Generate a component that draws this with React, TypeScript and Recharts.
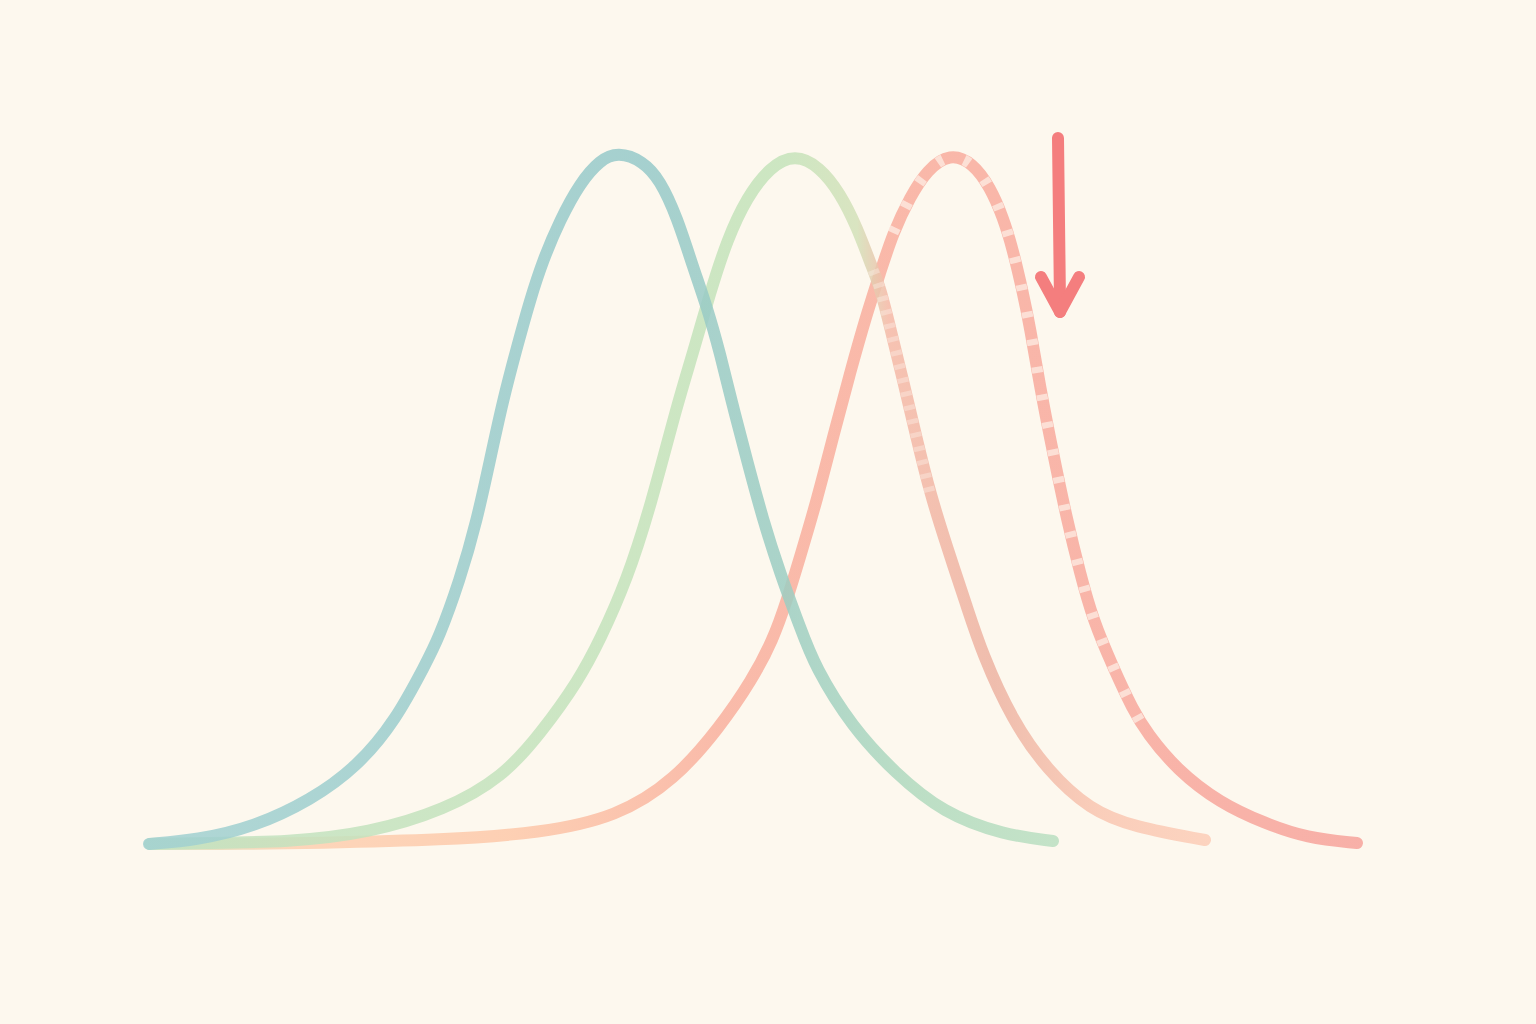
import { LineChart, Line, XAxis, YAxis, ReferenceLine } from "recharts";

// three bell curves, x = score, y = density
const tealCurve = [
  { x: 149, y: 0 }, { x: 197, y: 4 }, { x: 254, y: 17 }, { x: 311, y: 44 },
  { x: 357, y: 77 }, { x: 396, y: 124 }, { x: 426, y: 181 }, { x: 438, y: 204 },
  { x: 460, y: 264 }, { x: 477, y: 324 }, { x: 490, y: 384 }, { x: 503, y: 444 },
  { x: 517, y: 497 }, { x: 530, y: 544 }, { x: 543, y: 584 }, { x: 560, y: 624 },
  { x: 580, y: 661 }, { x: 600, y: 684 }, { x: 618, y: 692 }, { x: 643, y: 683 },
  { x: 660, y: 664 }, { x: 677, y: 627 }, { x: 693, y: 577 }, { x: 707, y: 537 },
  { x: 720, y: 491 }, { x: 733, y: 437 }, { x: 747, y: 384 }, { x: 763, y: 324 },
  { x: 780, y: 271 }, { x: 800, y: 217 }, { x: 815, y: 177 }, { x: 852, y: 117 },
  { x: 895, y: 71 }, { x: 943, y: 31 }, { x: 1004, y: 9 }, { x: 1053, y: 3 },
];

const greenCurve = [
  { x: 150, y: 0 }, { x: 200, y: 1 }, { x: 290, y: 2 }, { x: 369, y: 11 },
  { x: 445, y: 34 }, { x: 503, y: 67 }, { x: 541, y: 111 }, { x: 579, y: 164 },
  { x: 600, y: 204 }, { x: 627, y: 264 }, { x: 651, y: 339 }, { x: 677, y: 439 },
  { x: 693, y: 491 }, { x: 710, y: 551 }, { x: 727, y: 604 }, { x: 747, y: 647 },
  { x: 770, y: 677 }, { x: 795, y: 690 }, { x: 820, y: 677 }, { x: 840, y: 651 },
  { x: 857, y: 617 }, { x: 873, y: 574 }, { x: 880, y: 557 }, { x: 890, y: 517 },
  { x: 903, y: 464 }, { x: 917, y: 404 }, { x: 930, y: 351 }, { x: 947, y: 297 },
  { x: 967, y: 237 }, { x: 982, y: 191 }, { x: 1012, y: 124 }, { x: 1047, y: 74 },
  { x: 1090, y: 34 }, { x: 1134, y: 17 }, { x: 1205, y: 4 },
];

const redCurve = [
  { x: 150, y: 0 }, { x: 250, y: 0 }, { x: 311, y: 1 }, { x: 445, y: 4 },
  { x: 541, y: 11 }, { x: 617, y: 27 }, { x: 675, y: 64 }, { x: 720, y: 117 },
  { x: 752, y: 164 }, { x: 773, y: 204 }, { x: 787, y: 244 }, { x: 800, y: 287 },
  { x: 817, y: 344 }, { x: 834, y: 411 }, { x: 850, y: 471 }, { x: 867, y: 531 },
  { x: 880, y: 571 }, { x: 893, y: 611 }, { x: 910, y: 647 }, { x: 927, y: 674 },
  { x: 950, y: 691 }, { x: 973, y: 681 }, { x: 990, y: 657 }, { x: 1003, y: 627 },
  { x: 1013, y: 594 }, { x: 1023, y: 551 }, { x: 1030, y: 517 }, { x: 1040, y: 457 },
  { x: 1053, y: 391 }, { x: 1067, y: 324 }, { x: 1080, y: 271 }, { x: 1093, y: 224 },
  { x: 1113, y: 177 }, { x: 1133, y: 134 }, { x: 1147, y: 111 }, { x: 1177, y: 74 },
  { x: 1220, y: 41 }, { x: 1264, y: 21 }, { x: 1307, y: 6 }, { x: 1357, y: 1 },
];

// shift arrow (annotation)
const arrowShaft = [{ x: 1058, y: 706 }, { x: 1060, y: 541 }];
const arrowHeadLeft = [{ x: 1041, y: 567 }, { x: 1060, y: 532 }];
const arrowHeadRight = [{ x: 1079, y: 567 }, { x: 1060, y: 532 }];

const redDashed = redCurve.filter((p) => p.x >= 893 && p.x <= 1147);
const greenDashed = greenCurve.filter((p) => p.x >= 873 && p.x <= 930);

const arrowColor = "#f47e7e";
const lineWidth = 12;

export default function App() {
  return (
    <div
      style={{
        position: "absolute",
        top: 0,
        left: 0,
        width: 1536,
        height: 1024,
        background: "#fdf8ee",
      }}
    >
      <style>{`
        .recharts-line-curve { stroke-linecap: round; stroke-linejoin: round; }
        .dash-overlay .recharts-line-curve { stroke-linecap: butt; }
        .recharts-reference-line-line { stroke-linecap: round; }
      `}</style>
      <LineChart
        width={1536}
        height={1024}
        margin={{ top: 124, right: 176, bottom: 180, left: 140 }}
      >
        <defs>
          <linearGradient id="gTeal" x1="0" y1="0" x2="1" y2="0">
            <stop offset="0" stopColor="#a2d1d1" />
            <stop offset="0.55" stopColor="#96c9c9" />
            <stop offset="0.7" stopColor="#9ccdc2" />
            <stop offset="0.85" stopColor="#b1dabe" />
            <stop offset="1" stopColor="#badfc1" />
          </linearGradient>
          <linearGradient id="gGreen" x1="0" y1="0" x2="1" y2="0">
            <stop offset="0" stopColor="#c3e2c0" />
            <stop offset="0.6" stopColor="#c4e3ba" />
            <stop offset="0.67" stopColor="#d3e1b9" />
            <stop offset="0.7" stopColor="#f5b9a7" />
            <stop offset="0.8" stopColor="#edb3a2" />
            <stop offset="0.9" stopColor="#f9c6b1" />
            <stop offset="1" stopColor="#fccdb7" />
          </linearGradient>
          <linearGradient id="gRed" x1="0" y1="0" x2="1" y2="0">
            <stop offset="0" stopColor="#d6e6c4" />
            <stop offset="0.12" stopColor="#fdd2b4" />
            <stop offset="0.3" stopColor="#fdcbad" />
            <stop offset="0.47" stopColor="#f9b4a2" />
            <stop offset="0.6" stopColor="#f9b2a2" />
            <stop offset="1" stopColor="#f7a8a0" />
          </linearGradient>
        </defs>
        <XAxis dataKey="x" type="number" domain={[140, 1360]} hide />
        <YAxis type="number" domain={[0, 720]} hide />

        <Line
          data={redCurve}
          dataKey="y"
          type="basis"
          stroke="url(#gRed)"
          strokeWidth={lineWidth}
          strokeOpacity={0.9}
          dot={false}
          activeDot={false}
          isAnimationActive={false}
        />
        <Line
          data={greenCurve}
          dataKey="y"
          type="basis"
          stroke="url(#gGreen)"
          strokeWidth={lineWidth}
          strokeOpacity={0.85}
          dot={false}
          activeDot={false}
          isAnimationActive={false}
        />
        <Line
          data={tealCurve}
          dataKey="y"
          type="basis"
          stroke="url(#gTeal)"
          strokeWidth={lineWidth}
          strokeOpacity={0.85}
          dot={false}
          activeDot={false}
          isAnimationActive={false}
        />
        {/* faded dashes on the shifted part */}
        <Line
          className="dash-overlay"
          data={redDashed}
          dataKey="y"
          type="basis"
          stroke="#fdf1e8"
          strokeWidth={lineWidth - 1}
          strokeOpacity={0.7}
          strokeDasharray="6 22"
          dot={false}
          activeDot={false}
          isAnimationActive={false}
        />
        <Line
          className="dash-overlay"
          data={greenDashed}
          dataKey="y"
          type="basis"
          stroke="#fdf1e8"
          strokeWidth={lineWidth - 1}
          strokeOpacity={0.4}
          strokeDasharray="5 9"
          dot={false}
          activeDot={false}
          isAnimationActive={false}
        />

        <ReferenceLine
          segment={arrowShaft}
          stroke={arrowColor}
          strokeWidth={lineWidth}
          ifOverflow="visible"
        />
        <ReferenceLine
          segment={arrowHeadLeft}
          stroke={arrowColor}
          strokeWidth={lineWidth}
          ifOverflow="visible"
        />
        <ReferenceLine
          segment={arrowHeadRight}
          stroke={arrowColor}
          strokeWidth={lineWidth}
          ifOverflow="visible"
        />
      </LineChart>
    </div>
  );
}
